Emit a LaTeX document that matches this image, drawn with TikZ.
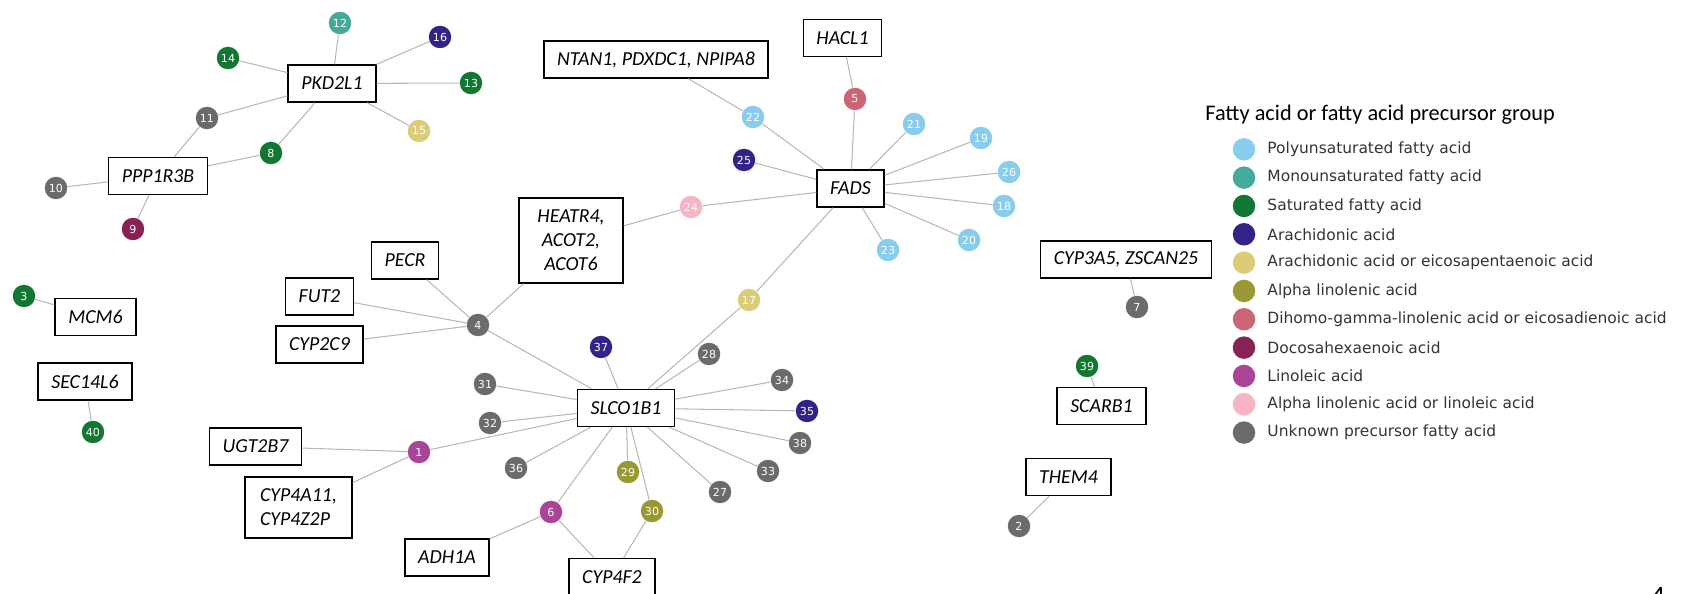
\documentclass[tikz,border=0pt]{standalone}
\usepackage{fontspec}
\setmainfont{Carlito}
\newfontfamily\dejavu{DejaVu Sans}
\usepackage{xcolor}
\usepackage{tikz}
\usetikzlibrary{positioning}

\definecolor{pufa}{HTML}{88CCEE}
\definecolor{mufa}{HTML}{44AA99}
\definecolor{sfa}{HTML}{117733}
\definecolor{arach}{HTML}{332288}
\definecolor{arachepa}{HTML}{DDCC77}
\definecolor{ala}{HTML}{999933}
\definecolor{dgla}{HTML}{CC6677}
\definecolor{dha}{HTML}{882255}
\definecolor{linol}{HTML}{AA4499}
\definecolor{alalin}{HTML}{F8B4C3}
\definecolor{unknown}{HTML}{6B6B6B}
\definecolor{edgegray}{HTML}{B8B8B8}
\definecolor{legtextcol}{HTML}{333333}

\begin{document}
\begin{tikzpicture}[x=0.02cm, y=-0.02cm,
  gene/.style={draw, line width=0.8pt, fill=white, minimum height=0.74cm, inner xsep=7.5pt,
    font=\fontsize{11.3}{13.6}\selectfont\itshape},
  acid/.style={circle, fill=#1, minimum size=0.45cm, inner sep=0pt, text=white,
    font=\dejavu\fontsize{6.3}{7}\selectfont},
  legtext/.style={inner sep=0pt, anchor=west, text=legtextcol, font=\dejavu\fontsize{8.8}{10}\selectfont},
  link/.style={draw=edgegray, line width=0.6pt}]
\useasboundingbox (0,0) rectangle (1691,594);

% Gene boxes
\node[gene] (pkd) at (332, 83.5) {PKD2L1};
\node[gene] (ppp) at (158, 176) {PPP1R3B};
\node[gene] (ntan) at (656, 59.5) {NTAN1, PDXDC1, NPIPA8};
\node[gene] (hacl) at (842.5, 38) {HACL1};
\node[gene] (fads) at (850.5, 188.5) {FADS};
\node[gene, align=center, minimum width=2.08cm, minimum height=1.7cm] (heatr) at (571, 240.5) {HEATR4,\\ACOT2,\\ACOT6};
\node[gene] (pecr) at (405, 260.5) {PECR};
\node[gene] (fut) at (319.5, 296.5) {FUT2};
\node[gene] (cyptc) at (319.5, 344.5) {CYP2C9};
\node[gene] (slco) at (626, 408) {SLCO1B1};
\node[gene] (ugt) at (255.5, 446.5) {UGT2B7};
\node[gene, align=left, minimum width=2.14cm, minimum height=1.22cm] (cypfa) at (298.5, 507.5) {CYP4A11,\\CYP4Z2P};
\node[gene] (adh) at (447, 557.5) {ADH1A};
\node[gene] (cypff) at (612, 577) {CYP4F2};
\node[gene] (mcm) at (95.5, 317) {MCM6};
\node[gene] (sec) at (85, 381.5) {SEC14L6};
\node[gene] (cyptf) at (1126, 259.5) {CYP3A5, ZSCAN25};
\node[gene] (scarb) at (1101.5, 406) {SCARB1};
\node[gene] (them) at (1068.5, 477) {THEM4};

% Fatty acid nodes
\foreach \n/\x/\y/\c in {1/419/452/linol, 2/1019/526/unknown, 3/24/296/sfa, 4/478/325/unknown,
    5/855/99/dgla, 6/551/512/linol, 7/1137/307/unknown, 8/271/153/sfa, 9/133/229/dha,
    10/56/188/unknown, 11/207/118/unknown, 12/340/23/mufa, 13/471/83/sfa, 14/228/58/sfa,
    15/419/131/arachepa, 16/440/37/arach, 17/749/300/arachepa, 18/1004/206/pufa,
    19/981/138/pufa, 20/969/240/pufa, 21/914/124/pufa, 22/753/117/pufa, 23/888/250/pufa,
    24/691/207/alalin, 25/744/160/arach, 26/1009/172/pufa, 27/720/492/unknown,
    28/709/354/unknown, 29/628/472/ala, 30/652/511/ala, 31/485/384/unknown,
    32/490/423/unknown, 33/768/471/unknown, 34/782/380/unknown, 35/807/411/arach,
    36/516/468/unknown, 37/601/347/arach, 38/800/443/unknown, 39/1087/366/sfa, 40/93/432/sfa}
  \node[acid=\c] (a\n) at (\x, \y) {\n};

% PKD2L1 / PPP1R3B
\foreach \n in {12,16,14,13,15,11,8} \draw[link] (pkd) -- (a\n);
\foreach \n in {11,8,10,9} \draw[link] (ppp) -- (a\n);

% FADS
\foreach \n in {22,5,21,19,26,18,20,23,25,24,17} \draw[link] (fads) -- (a\n);
\draw[link] (ntan) -- (a22);
\draw[link] (hacl) -- (a5);
\draw[link] (heatr) -- (a24);
\draw[link] (heatr) -- (a4);

% SLCO1B1
\foreach \n in {4,37,28,17,34,35,38,33,27,30,29,6,36,32,31,1} \draw[link] (slco) -- (a\n);
\foreach \g in {pecr,fut,cyptc} \draw[link] (a4) -- (\g);
\draw[link] (a1) -- (ugt);
\draw[link] (a1) -- (cypfa);
\draw[link] (a6) -- (adh);
\draw[link] (a6) -- (cypff);
\draw[link] (a30) -- (cypff);

% Single pairs
\draw[link] (a3) -- (mcm);
\draw[link] (sec) -- (a40);
\draw[link] (cyptf) -- (a7);
\draw[link] (a39) -- (scarb);
\draw[link] (them) -- (a2);

% Legend
\node[inner sep=0pt, anchor=west, font=\fontsize{12.7}{14}\selectfont] (legtitle) at (1205, 115) {Fatty acid or fatty acid precursor group};
\foreach \c/\t [count=\i from 0] in {pufa/Polyunsaturated fatty acid, mufa/Monounsaturated fatty acid,
    sfa/Saturated fatty acid, arach/Arachidonic acid, arachepa/Arachidonic acid or eicosapentaenoic acid,
    ala/Alpha linolenic acid, dgla/Dihomo-gamma-linolenic acid or eicosadienoic acid,
    dha/Docosahexaenoic acid, linol/Linoleic acid, alalin/Alpha linolenic acid or linoleic acid,
    unknown/Unknown precursor fatty acid} {
  \node[acid=\c] (leg\i) at (1244, 149.3+28.33*\i) {};
  \node[legtext, right=0.23cm of leg\i] (legt\i) {\t};
}

\node[inner sep=0pt, anchor=north, font=\fontsize{16}{16}\selectfont] (pagenum) at (1658, 587) {4};
\end{tikzpicture}
\end{document}
